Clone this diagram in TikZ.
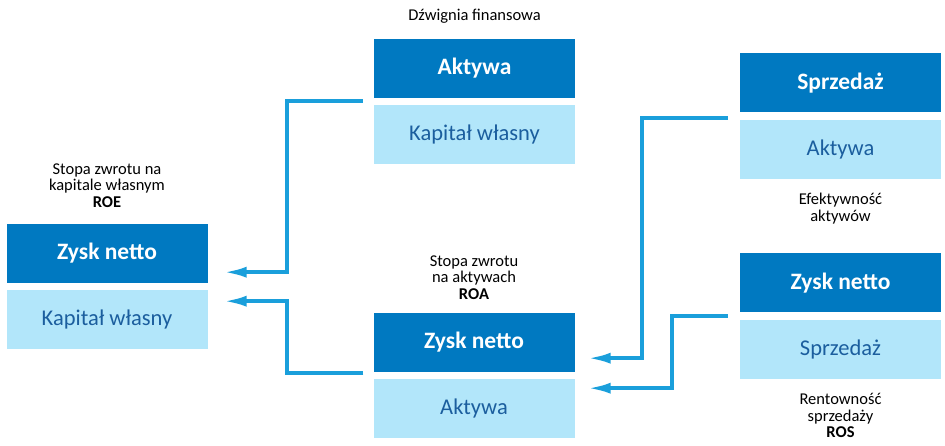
\documentclass[tikz,border=0pt]{standalone}
\usepackage{fontspec}
\setmainfont{Carlito}
\usepackage{tikz}
\usetikzlibrary{positioning, arrows.meta, calc}

\definecolor{darkbox}{RGB}{0,121,193}
\definecolor{lightbox}{RGB}{178,230,250}
\definecolor{lighttext}{RGB}{27,94,158}
\definecolor{connblue}{RGB}{26,159,219}

\begin{document}
\begin{tikzpicture}[
  x=1pt, y=-1pt,
  topbox/.style={fill=darkbox, text=white, font=\fontsize{23.5}{26}\selectfont\bfseries,
    minimum width=201pt, minimum height=59pt, inner sep=0pt},
  botbox/.style={fill=lightbox, text=lighttext, font=\fontsize{22.5}{26}\selectfont,
    minimum width=201pt, minimum height=59pt, inner sep=0pt, below=7pt of #1},
  lbl/.style={align=center, font=\fontsize{16.5}{16.5}\selectfont, inner sep=0pt},
  conn/.style={draw=connblue, line width=4pt, -{Latex[length=24pt,width=11pt]}}
]
  \useasboundingbox (0,0) rectangle (945,446);

  % ROE
  \node[topbox] (roeZ) at (107,253.5) {Zysk netto};
  \node[botbox=roeZ] (roeK) {Kapitał własny};
  \node[lbl, above=16pt of roeZ] (roeL) {Stopa zwrotu na\\kapitale własnym\\\textbf{ROE}};

  % Dzwignia finansowa
  \node[topbox] (dzwA) at (474.5,68.5) {Aktywa};
  \node[botbox=dzwA] (dzwK) {Kapitał własny};
  \node[lbl, above=15pt of dzwA] (dzwL) {Dźwignia finansowa};

  % ROA
  \node[topbox] (roaZ) at (474,342.5) {Zysk netto};
  \node[botbox=roaZ] (roaA) {Aktywa};
  \node[lbl, above=13pt of roaZ] (roaL) {Stopa zwrotu\\na aktywach\\\textbf{ROA}};

  % Efektywnosc aktywow
  \node[topbox] (efS) at (840.5,83) {Sprzedaż};
  \node[botbox=efS] (efA) {Aktywa};
  \node[lbl, below=14pt of efA] (efL) {Efektywność\\aktywów};

  % ROS
  \node[topbox] (rosZ) at (840.5,283) {Zysk netto};
  \node[botbox=rosZ] (rosS) {Sprzedaż};
  \node[lbl, below=14pt of rosS] (rosL) {Rentowność\\sprzedaży\\\textbf{ROS}};

  % connectors
  \coordinate (c1) at ($(dzwA.south west)+(-11,3)$);
  \coordinate (c2) at ($(roaZ.south west)+(-10,1)$);
  \coordinate (c3) at ($(efA.north west)+(-12,-2)$);
  \coordinate (c4) at ($(rosZ.south west)+(-12,3)$);

  \draw[conn] (c1) -- ++(-76,0) |- ($(roeZ.south east)+(15,-11)$);
  \draw[conn] (c2) -- ++(-76,0) |- ($(roeK.north east)+(15,11)$);
  \draw[conn] (c3) -- ++(-86,0) |- ($(roaZ.south east)+(12,-14)$);
  \draw[conn] (c4) -- ++(-56,0) |- ($(roaA.north east)+(12,9)$);
\end{tikzpicture}
\end{document}
